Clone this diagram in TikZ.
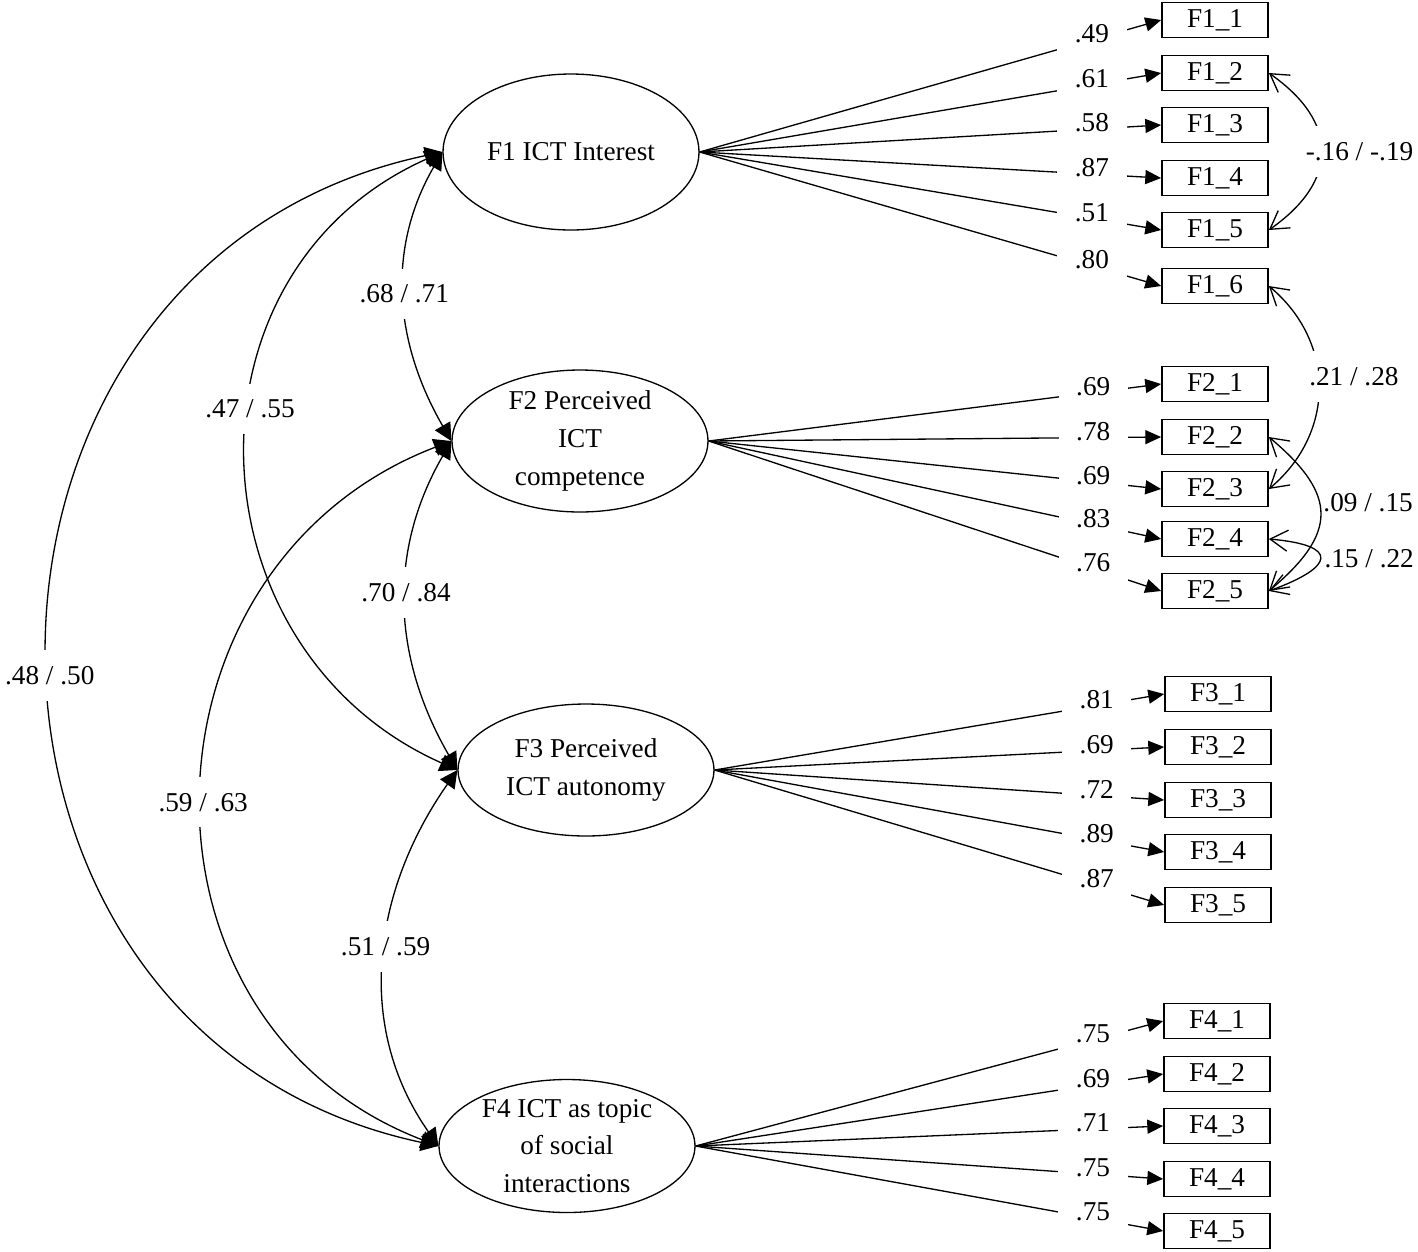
\documentclass[tikz,border=0pt]{standalone}
\usepackage{fontspec}
\setmainfont{Liberation Serif}
\usetikzlibrary{arrows.meta,shapes.geometric}
\begin{document}
\begin{tikzpicture}[x=0.02cm,y=0.02cm,
    font=\fontsize{15.5}{21.5}\selectfont,
    line width=0.75pt,
    factor/.style={draw,ellipse,inner xsep=0pt,inner ysep=-6pt,align=center,minimum width=5.12cm},
    item/.style={draw,line width=1pt,minimum width=2.12cm,minimum height=0.7cm,inner sep=0pt},
    load/.style={-{Triangle[length=9pt,width=8pt]}},
    ld/.style={pos=.85,yshift=0.12cm,fill=white,inner xsep=10pt,inner ysep=5pt},
    cov/.style={{Triangle[length=10pt,width=10pt]}-{Triangle[length=10pt,width=10pt]}},
    ecov/.style={{Straight Barb[length=10pt,width=12pt]}-{Straight Barb[length=10pt,width=12pt]}},
    cl/.style={fill=white,inner xsep=1pt,inner ysep=9pt}]
  \path[use as bounding box] (0,0) rectangle (1418,-1252);

  \node[factor,minimum height=3.12cm] (F1) at (571,-152) {F1 ICT Interest};
  \node[factor,minimum height=2.84cm] (F2) at (580,-441) {F2 Perceived\\ICT\\competence};
  \node[factor,minimum height=2.64cm] (F3) at (586,-770) {F3 Perceived\\ICT autonomy};
  \node[factor,minimum height=2.66cm] (F4) at (567,-1146) {F4 ICT as topic\\of social\\interactions};

  \node[item] (F11) at (1215,-20) {F1\_1};
  \node[item] (F12) at (1215,-73) {F1\_2};
  \node[item] (F13) at (1215,-125) {F1\_3};
  \node[item] (F14) at (1215,-178) {F1\_4};
  \node[item] (F15) at (1215,-230) {F1\_5};
  \node[item] (F16) at (1215,-286) {F1\_6};

  \node[item] (F21) at (1215,-384) {F2\_1};
  \node[item] (F22) at (1215,-437) {F2\_2};
  \node[item] (F23) at (1215,-489) {F2\_3};
  \node[item] (F24) at (1215,-539) {F2\_4};
  \node[item] (F25) at (1215,-591) {F2\_5};

  \node[item] (F31) at (1218,-694) {F3\_1};
  \node[item] (F32) at (1218,-747) {F3\_2};
  \node[item] (F33) at (1218,-800) {F3\_3};
  \node[item] (F34) at (1218,-852) {F3\_4};
  \node[item] (F35) at (1218,-905) {F3\_5};

  \node[item] (F41) at (1217,-1021) {F4\_1};
  \node[item] (F42) at (1217,-1074) {F4\_2};
  \node[item] (F43) at (1217,-1126) {F4\_3};
  \node[item] (F44) at (1217,-1179) {F4\_4};
  \node[item] (F45) at (1217,-1231) {F4\_5};

  \draw[load] (F1.east) -- (F11.west) node[ld] {.49};
  \draw[load] (F1.east) -- (F12.west) node[ld] {.61};
  \draw[load] (F1.east) -- (F13.west) node[ld] {.58};
  \draw[load] (F1.east) -- (F14.west) node[ld] {.87};
  \draw[load] (F1.east) -- (F15.west) node[ld] {.51};
  \draw[load] (F1.east) -- (F16.west) node[ld] {.80};

  \draw[load] (F2.east) -- (F21.west) node[ld] {.69};
  \draw[load] (F2.east) -- (F22.west) node[ld] {.78};
  \draw[load] (F2.east) -- (F23.west) node[ld] {.69};
  \draw[load] (F2.east) -- (F24.west) node[ld] {.83};
  \draw[load] (F2.east) -- (F25.west) node[ld] {.76};

  \draw[load] (F3.east) -- (F31.west) node[ld] {.81};
  \draw[load] (F3.east) -- (F32.west) node[ld] {.69};
  \draw[load] (F3.east) -- (F33.west) node[ld] {.72};
  \draw[load] (F3.east) -- (F34.west) node[ld] {.89};
  \draw[load] (F3.east) -- (F35.west) node[ld] {.87};

  \draw[load] (F4.east) -- (F41.west) node[ld] {.75};
  \draw[load] (F4.east) -- (F42.west) node[ld] {.69};
  \draw[load] (F4.east) -- (F43.west) node[ld] {.71};
  \draw[load] (F4.east) -- (F44.west) node[ld] {.75};
  \draw[load] (F4.east) -- (F45.west) node[ld] {.75};

  \draw[cov] (F1.west) to[out=240,in=120] node[cl,pos=.49] {.68 / .71} (F2.west);
  \draw[cov] (F2.west) to[out=240,in=120] node[cl,pos=.46] {.70 / .84} (F3.west);
  \draw[cov] (F3.west) to[out=235,in=125] node[cl,pos=.47] {.51 / .59} (F4.west);
  \draw[cov] (F1.west) to[out=204,in=156,looseness=1.22] node[cl,pos=.43] {.47 / .55} (F3.west);
  \draw[cov] (F2.west) to[out=201,in=159,looseness=1.25] node[cl,pos=.51] {.59 / .63} (F4.west);
  \draw[cov] (F1.west) to[out=192,in=168,looseness=1.37] node[cl,pos=.52] {.48 / .50} (F4.west);

  \draw[ecov] (F12.east) to[out=-35,in=35,looseness=1.4] node[cl,xshift=0.76cm] {-.16 / -.19} (F15.east);
  \draw[ecov] (F16.east) to[out=-40,in=40,looseness=1.1] node[cl,pos=.45,xshift=0.71cm] {.21 / .28} (F23.east);
  \draw[ecov] (F22.east) to[out=-40,in=40,looseness=1.5] node[pos=.42,anchor=west,inner sep=2pt] {.09 / .15} (F25.east);
  \draw[ecov] (F24.east) to[out=-5,in=20,looseness=3.5] node[pos=.5,anchor=west,inner sep=2pt] {.15 / .22} (F25.east);
\end{tikzpicture}
\end{document}
